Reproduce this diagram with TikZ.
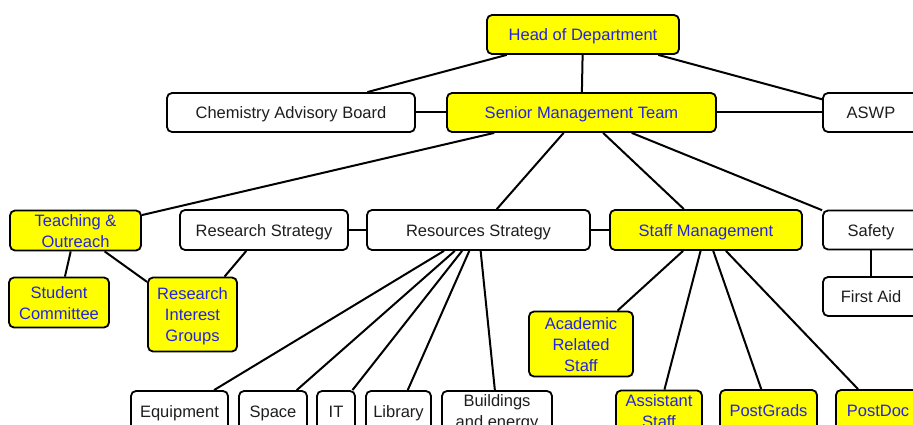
\documentclass[tikz,border=0pt]{standalone}
\usepackage{fontspec}
\setmainfont{Liberation Sans}
\definecolor{boxyellow}{RGB}{255,255,0}
\definecolor{txtblue}{RGB}{35,35,225}
\definecolor{txtdark}{RGB}{30,30,30}
\newcommand\mlines[1]{\begin{tabular}[t]{@{}c@{}}#1\end{tabular}}
\begin{document}
\begin{tikzpicture}[x=1pt,y=-1pt,
  box/.style={draw=black, line width=1.8pt, rounded corners=5pt, inner sep=0pt,
    font=\fontsize{16.5}{21}\selectfont, text height=12pt, text depth=0pt},
  two/.style={text height=12pt, text depth=21pt},
  three/.style={text height=12pt, text depth=42pt},
  ybox/.style={box, fill=boxyellow, text=txtblue},
  wbox/.style={box, fill=white, text=txtdark},
  conn/.style={draw=black, line width=2pt}]
\useasboundingbox (0,0) rectangle (913,425);
\clip (0,0) rectangle (913,425);
\fill[white] (0,0) rectangle (913,425);
% level 0/1
\node[ybox, minimum width=192pt, minimum height=39pt] (hod) at (583,34.5) {Head of Department};
\node[wbox, minimum width=248pt, minimum height=39pt] (cab) at (291,112.5) {Chemistry Advisory Board};
\node[ybox, minimum width=269pt, minimum height=39pt] (smt) at (581.5,112.5) {Senior Management Team};
\node[wbox, minimum width=96pt, minimum height=39pt] (aswp) at (871,112.5) {ASWP};
% level 2
\node[ybox, two, minimum width=131pt, minimum height=40pt] (to) at (75.5,230.5) {\mlines{Teaching \&\\Outreach}};
\node[wbox, minimum width=168pt, minimum height=40pt] (rs) at (264,230) {Research Strategy};
\node[wbox, minimum width=223pt, minimum height=40pt] (res) at (478.5,230) {Resources Strategy};
\node[ybox, minimum width=192pt, minimum height=40pt] (sm) at (706,230) {Staff Management};
\node[wbox, minimum width=96pt, minimum height=39pt] (safety) at (871,230) {Safety};
% level 3
\node[ybox, two, minimum width=100pt, minimum height=50pt] (sc) at (59,302.5) {\mlines{Student\\Committee}};
\node[ybox, three, minimum width=89pt, minimum height=74pt] (rig) at (192.5,314.5) {\mlines{Research\\Interest\\Groups}};
\node[ybox, three, minimum width=104pt, minimum height=65pt] (ars) at (581,344) {\mlines{Academic\\Related\\Staff}};
\node[wbox, minimum width=96pt, minimum height=39pt] (fa) at (871,296.5) {First Aid};
% level 4
\node[wbox, minimum width=97pt, minimum height=40pt] (eq) at (179.5,411) {Equipment};
\node[wbox, minimum width=68pt, minimum height=40pt] (sp) at (273,411) {Space};
\node[wbox, minimum width=38pt, minimum height=40pt] (it) at (336,411) {IT};
\node[wbox, minimum width=65pt, minimum height=40pt] (lib) at (398.5,411) {Library};
\node[wbox, two, minimum width=110pt, minimum height=40pt] (bld) at (497,411) {\mlines{Buildings\\and energy}};
\node[ybox, two, minimum width=86pt, minimum height=40pt] (ast) at (659,410.5) {\mlines{Assistant\\Staff}};
\node[ybox, minimum width=97pt, minimum height=40pt] (pg) at (768.5,410) {PostGrads};
\node[ybox, minimum width=84pt, minimum height=40pt] (pd) at (878,410) {PostDoc};
% connectors
\draw[conn] (hod) -- (smt);
\draw[conn] (hod) -- (cab);
\draw[conn] (hod) -- (aswp);
\draw[conn] (cab) -- (smt);
\draw[conn] (smt) -- (aswp);
\draw[conn] (smt) -- (to);
\draw[conn] (smt) -- (res);
\draw[conn] (smt) -- (sm);
\draw[conn] (smt) -- (safety);
\draw[conn] (rs) -- (res);
\draw[conn] (res) -- (sm);
\draw[conn] (rs) -- (rig);
\draw[conn] (to) -- (sc);
\draw[conn] (to) -- (rig);
\draw[conn] (safety) -- (fa);
\draw[conn] (res) -- (eq);
\draw[conn] (res) -- (sp);
\draw[conn] (res) -- (it);
\draw[conn] (res) -- (lib);
\draw[conn] (res) -- (bld);
\draw[conn] (sm) -- (ars);
\draw[conn] (sm) -- (ast);
\draw[conn] (sm) -- (pg);
\draw[conn] (sm) -- (pd);
\end{tikzpicture}
\end{document}
